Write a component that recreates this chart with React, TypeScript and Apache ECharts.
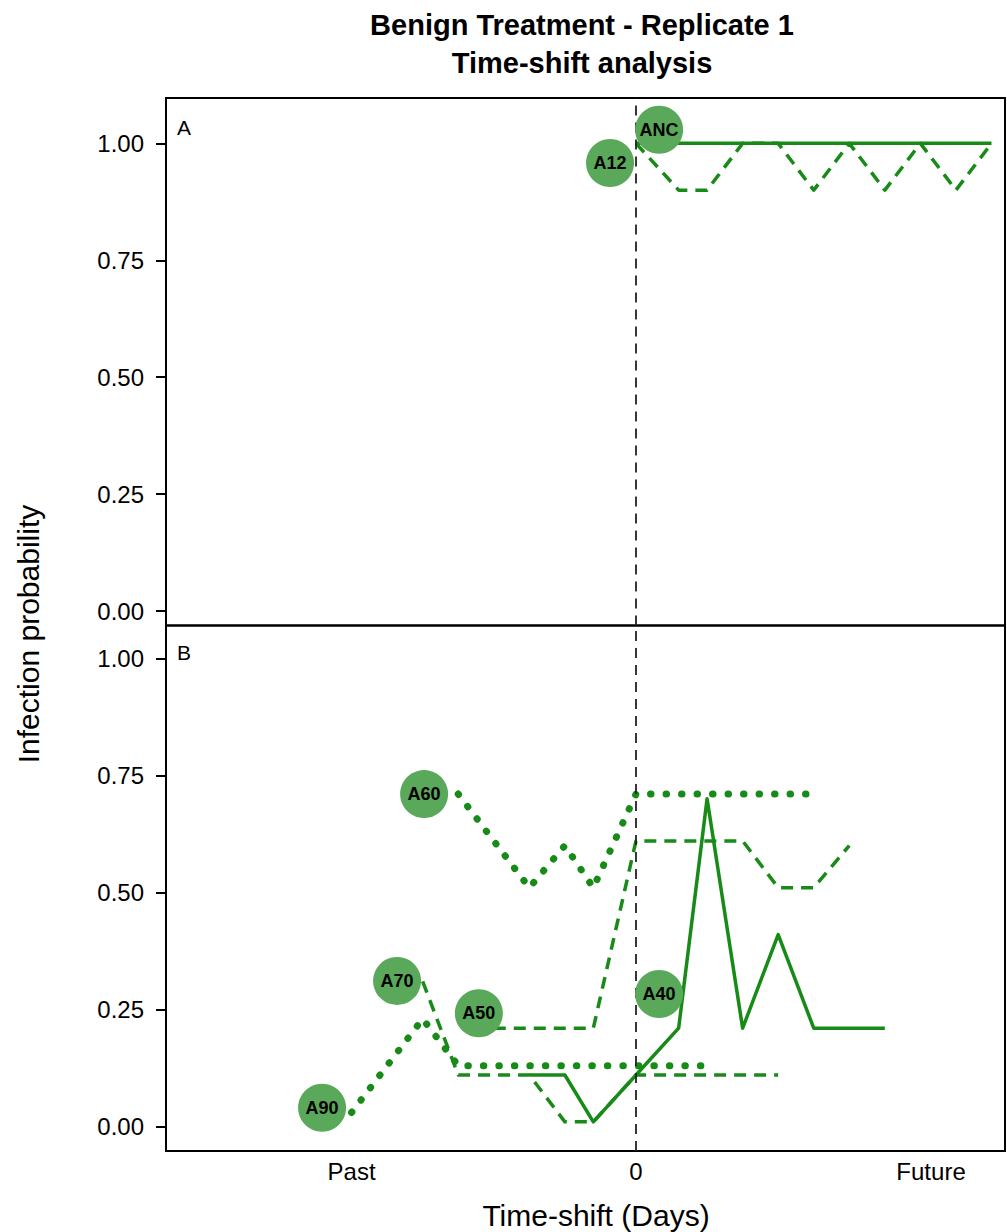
import React, { useEffect, useRef } from 'react';
import * as echarts from 'echarts';

const FONT = '"Liberation Sans", Arial, Helvetica, sans-serif';
const LINE_GREEN = '#178a17';
const CIRCLE_GREEN = '#5aa95a';

// Axis ticks / labels
const xTickValues = [-8, 0, 8.3];
const xTickLabels = ['Past', '0', 'Future'];
const yTickValues = [0, 0.25, 0.5, 0.75, 1];
const xRange = [-13.22, 10.38];
const yRangeA = [-0.031, 1.097];
const yRangeB = [-0.0523, 1.07];

// Panel A series
const ancDays = [0, 1.2, 2, 3, 4, 5, 6, 7, 8, 9, 10];
const ancProb = [1, 1, 1, 1, 1, 1, 1, 1, 1, 1, 1];
const a12Days = [0, 1.2, 2, 3, 4, 5, 6, 7, 8, 9, 10];
const a12Prob = [1, 0.9, 0.9, 1, 1, 0.9, 1, 0.9, 1, 0.9, 1];

// Panel B series
const a60Days = [-5, -4, -3, -2, -1.2, 0, 1.2, 2, 3, 4, 5];
const a60Prob = [0.71, 0.61, 0.51, 0.6, 0.51, 0.71, 0.71, 0.71, 0.71, 0.71, 0.71];
const a70Days = [-6, -5, -4, -3, -2, -1.2, 0, 1.2, 2, 3, 4];
const a70Prob = [0.31, 0.11, 0.11, 0.11, 0.01, 0.01, 0.11, 0.11, 0.11, 0.11, 0.11];
const a50Days = [-4, -3, -2, -1.2, 0, 1.2, 2, 3, 4, 5, 6];
const a50Prob = [0.21, 0.21, 0.21, 0.21, 0.61, 0.61, 0.61, 0.61, 0.51, 0.51, 0.6];
const a90Days = [-8, -7, -6, -5, -4, -3, -2, -1.2, 0, 1.2, 2];
const a90Prob = [0.03, 0.13, 0.23, 0.13, 0.13, 0.13, 0.13, 0.13, 0.13, 0.13, 0.13];
const a40Days = [-3, -2, -1.2, 0, 1.2, 2, 3, 4, 5, 6, 7];
const a40Prob = [0.11, 0.11, 0.01, 0.11, 0.21, 0.7, 0.21, 0.41, 0.21, 0.21, 0.21];

// Label bubbles
const labelsA = ['A12', 'ANC'];
const labelsAX = [-0.73, 0.65];
const labelsAY = [0.958, 1.029];
const labelsB = ['A60', 'A70', 'A50', 'A90', 'A40'];
const labelsBX = [-5.96, -6.72, -4.42, -8.83, 0.65];
const labelsBY = [0.71, 0.311, 0.242, 0.04, 0.283];

const zip = (xs: number[], ys: number[]) => xs.map((x, i) => [x, ys[i]]);

const solidStyle = { color: LINE_GREEN, width: 3.5, join: 'round' as const };
const dashedStyle = { color: LINE_GREEN, width: 3.5, type: [12, 8], cap: 'butt' as const, join: 'round' as const };
const dottedStyle = { color: LINE_GREEN, width: 7, type: [0.5, 15], cap: 'round' as const, join: 'round' as const };

const vLine = {
  silent: true,
  symbol: 'none',
  label: { show: false },
  lineStyle: { color: '#222', width: 1.8, type: [10, 7] },
  data: [{ xAxis: 0 }],
};

function lineSeries(name: string, grid: number, days: number[], prob: number[], style: any, withVLine = false) {
  const s: any = {
    name,
    type: 'line',
    xAxisIndex: grid,
    yAxisIndex: grid,
    data: zip(days, prob),
    showSymbol: false,
    symbol: 'none',
    lineStyle: style,
    silent: true,
  };
  if (withVLine) s.markLine = vLine;
  return s;
}

function bubbleSeries(grid: number, names: string[], xs: number[], ys: number[]) {
  return {
    type: 'scatter',
    xAxisIndex: grid,
    yAxisIndex: grid,
    symbolSize: 48,
    itemStyle: { color: CIRCLE_GREEN, opacity: 1 },
    label: {
      show: true,
      position: 'inside',
      formatter: (p: any) => p.data.name,
      color: '#000',
      fontWeight: 'bold',
      fontSize: 18,
      fontFamily: FONT,
    },
    data: names.map((n, i) => ({ name: n, value: [xs[i], ys[i]] })),
    silent: true,
    z: 5,
  };
}

function xAxisCfg(grid: number, showLabels: boolean) {
  return {
    type: 'value',
    gridIndex: grid,
    min: xRange[0],
    max: xRange[1],
    axisLine: { show: false, onZero: false },
    axisTick: { show: false },
    splitLine: { show: false },
    axisLabel: {
      show: showLabels,
      customValues: xTickValues,
      formatter: (v: number) => {
        const i = xTickValues.findIndex((t) => Math.abs(t - v) < 1e-6);
        return i >= 0 ? xTickLabels[i] : '';
      },
      fontSize: 24,
      fontFamily: FONT,
      color: '#000',
      margin: 8,
    },
  };
}

function yAxisCfg(grid: number, range: number[]) {
  return {
    type: 'value',
    gridIndex: grid,
    position: 'left',
    min: range[0],
    max: range[1],
    axisLine: { show: true, onZero: false, lineStyle: { color: '#000', width: 2 } },
    axisTick: { show: true, length: 10, customValues: yTickValues, lineStyle: { color: '#000', width: 2 } },
    splitLine: { show: false },
    axisLabel: {
      customValues: yTickValues,
      formatter: (v: number) => v.toFixed(2),
      fontSize: 24,
      fontFamily: FONT,
      color: '#000',
      margin: 22,
    },
  };
}

function txt(text: string, x: number, y: number, size: number, opts: any = {}) {
  return {
    type: 'text',
    x,
    y,
    rotation: opts.rotation || 0,
    silent: true,
    style: {
      text,
      fill: '#000',
      fontSize: size,
      fontWeight: opts.bold ? 'bold' : 'normal',
      fontFamily: FONT,
      align: opts.align || 'center',
      verticalAlign: 'middle',
      textAlign: opts.align || 'center',
      textVerticalAlign: 'middle',
    },
  };
}

export default function App() {
  const ref = useRef<HTMLDivElement>(null);
  useEffect(() => {
    const chart = echarts.init(ref.current!, null, { renderer: 'svg' });
    const option: any = {
      animation: false,
      backgroundColor: '#fff',
      textStyle: { fontFamily: FONT },
      grid: [
        { left: 166, right: 2, top: 98, height: 527.5, show: true, borderColor: '#000', borderWidth: 2, backgroundColor: 'transparent' },
        { left: 166, right: 2, top: 625.5, height: 525.5, show: true, borderColor: '#000', borderWidth: 2, backgroundColor: 'transparent' },
      ],
      xAxis: [xAxisCfg(0, false), xAxisCfg(1, true)],
      yAxis: [yAxisCfg(0, yRangeA), yAxisCfg(1, yRangeB)],
      series: [
        lineSeries('ANC', 0, ancDays, ancProb, solidStyle, true),
        lineSeries('A12', 0, a12Days, a12Prob, dashedStyle),
        bubbleSeries(0, labelsA, labelsAX, labelsAY),
        lineSeries('A60', 1, a60Days, a60Prob, dottedStyle, true),
        lineSeries('A70', 1, a70Days, a70Prob, dashedStyle),
        lineSeries('A50', 1, a50Days, a50Prob, dashedStyle),
        lineSeries('A90', 1, a90Days, a90Prob, dottedStyle),
        lineSeries('A40', 1, a40Days, a40Prob, solidStyle),
        bubbleSeries(1, labelsB, labelsBX, labelsBY),
      ],
      graphic: [
        txt('Benign Treatment - Replicate 1', 582, 25, 29, { bold: true }),
        txt('Time-shift analysis', 582, 63, 29, { bold: true }),
        txt('Infection probability', 28, 634, 30, { rotation: Math.PI / 2 }),
        txt('Time-shift (Days)', 596, 1215, 30),
        txt('A', 177, 127, 21, { align: 'left' }),
        txt('B', 177, 652, 21, { align: 'left' }),
      ],
    };
    chart.setOption(option);
    return () => chart.dispose();
  }, []);
  return (
    <div
      ref={ref}
      style={{ position: 'absolute', left: 0, top: 0, width: 1007, height: 1232, background: '#fff' }}
    />
  );
}
